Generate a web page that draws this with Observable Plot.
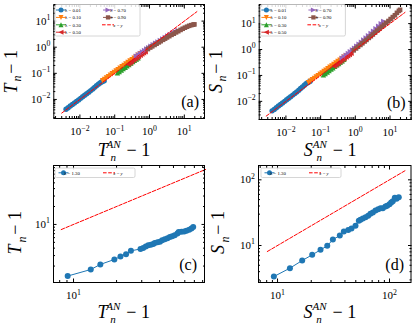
<!DOCTYPE html>
<html><head><meta charset="utf-8">
<script src="https://cdn.jsdelivr.net/npm/d3@7"></script>
<script src="https://cdn.jsdelivr.net/npm/@observablehq/plot@0.6"></script>
<style>
body{margin:0;background:#fff;}
#fig{position:relative;width:415px;height:326px;overflow:hidden;background:#fff;}
#fig svg{position:absolute;overflow:visible;}
</style></head><body><div id="fig"></div>
<script>
// ---------- data: panels (a) and (b) ----------
const lambdaLabels = ["0.01","0.10","0.30","0.50","0.70","0.90"];
const colors = ["#1f77b4","#ff7f0e","#2ca02c","#d62728","#9467bd","#8c564b"];

const x001 = [0.0040,0.0046,0.0053,0.0061,0.0070,0.0080,0.0092,0.0105,0.0120,0.0137,0.0157,0.0180,0.0205,0.0235,0.0265,0.030,0.034,0.038,0.042,0.046,0.050];
const T001 = [0.0042,0.0048,0.0056,0.0064,0.0073,0.0084,0.0096,0.0110,0.0126,0.0144,0.0165,0.0190,0.0218,0.0252,0.0290,0.0335,0.0385,0.0430,0.0465,0.0495,0.0525];
const S001 = [0.0043,0.0049,0.0057,0.0066,0.0076,0.0087,0.0100,0.0115,0.0132,0.0151,0.0174,0.0201,0.0232,0.0270,0.0312,0.0362,0.0420,0.0475,0.0520,0.0560,0.0600];

const x010 = [0.045,0.051,0.058,0.066,0.075,0.085,0.097,0.11,0.125,0.142,0.162,0.185,0.21,0.24,0.275,0.315,0.36,0.41,0.47,0.54];
const T010 = [0.052,0.058,0.066,0.075,0.085,0.096,0.109,0.123,0.139,0.157,0.178,0.202,0.228,0.26,0.295,0.335,0.38,0.43,0.49,0.56];
const S010 = [0.053,0.060,0.068,0.077,0.087,0.098,0.111,0.126,0.142,0.161,0.182,0.207,0.234,0.266,0.302,0.344,0.39,0.44,0.50,0.57];

const x030 = [0.12,0.135,0.155,0.175,0.20,0.225,0.255,0.29,0.33,0.37,0.42,0.47];
const T030 = [0.104,0.117,0.134,0.151,0.172,0.193,0.218,0.247,0.28,0.314,0.355,0.396];
const S030 = [0.105,0.119,0.136,0.154,0.176,0.198,0.224,0.255,0.29,0.326,0.37,0.415];

const x050 = [0.24,0.27,0.30,0.34,0.38,0.43,0.48,0.54,0.60,0.67,0.75];
const T050 = [0.222,0.249,0.277,0.313,0.35,0.395,0.44,0.492,0.545,0.605,0.67];
const S050 = [0.225,0.253,0.283,0.32,0.36,0.407,0.455,0.512,0.57,0.64,0.72];

const x070 = [0.42,0.48,0.55,0.63,0.72,0.83,0.95,1.1,1.28,1.5,1.75,2.05,2.4,2.85,3.35,3.95,4.7,5.6,6.6];
const T070 = [0.45,0.51,0.58,0.66,0.75,0.85,0.96,1.09,1.24,1.41,1.6,1.82,2.07,2.37,2.7,3.05,3.5,3.95,4.4];
const S070 = [0.46,0.53,0.61,0.71,0.83,0.97,1.13,1.34,1.6,1.93,2.32,2.8,3.4,4.2,5.1,6.3,7.9,9.9,12.2];

const x090 = [0.9,1.05,1.2,1.4,1.6,1.85,2.1,2.45,2.8,3.2,3.7,4.3,5.0,5.8,6.7,7.8,9.0,10.4,12.0,13.8,15.8,18.0,19.5];
const T090 = [0.85,0.97,1.08,1.22,1.36,1.53,1.7,1.92,2.13,2.37,2.65,2.98,3.3,3.7,4.1,4.6,5.1,5.6,6.1,6.6,7.0,7.3,7.5];
const S090 = [0.93,1.1,1.28,1.5,1.74,2.04,2.35,2.8,3.25,3.8,4.5,5.4,6.4,7.6,9.0,10.7,12.6,15.0,17.8,21.0,26,31,34];

// ---------- data: panels (c) and (d), lambda = 1.30 ----------
const lambdaC = "1.30";
const cX = [9.1,13.2,15.4,19.3,21.3,23.3,25.2,29.4,30.7,32.0,33.3,34.7,36.1,37.0,38.7,40.2,41.7,43.5,45.4,47.2,49.0,51.0,53.3,54.4,56.9,59.4,61.7,64.4,66.8,68.7];
const cY = [1.36,1.75,2.13,2.58,2.89,3.16,3.6,3.88,4.03,4.25,4.47,4.58,4.7,4.88,5.0,5.14,5.41,5.62,5.84,6.15,6.31,6.56,7.08,7.45,7.55,7.64,7.84,8.15,8.57,9.03];
const dX = [9.27,12.9,16.6,20.4,24.2,27.8,31.2,36.0,39.1,42.8,45.8,49.7,53.2,55.1,57.8,61.1,64.5,67.6,71,75,79.2,83.2,87.2,92,95.3,100,103.5,107,111.5,115.6,121];
const dY = [3.37,4.52,5.91,7.21,8.59,9.9,12.3,14.2,16.3,17.3,18.2,20.0,23.8,24.6,25.8,27.0,28.3,30.4,31.8,34.1,35.7,37,37,39.3,40.2,42.6,45.1,47.2,53.2,51.4,54.3];

// x = y reference line extents
const diagA = [0.003, 23], diagB = [0.0027, 27], diagC = [8.2, 84], diagD = [8.1, 139];

// tick values
const majA = [0.01, 0.1, 1, 10];
const majC_x = [10], majC_y = [10];
const majD = [10, 100];

// ---------- helpers ----------
const FONT = "'Liberation Serif','DejaVu Serif',serif";
const mk = pts => ({draw(ctx, size){const r=Math.sqrt(size/Math.PI);pts.forEach(([a,b],i)=>i?ctx.lineTo(a*r,b*r):ctx.moveTo(a*r,b*r));ctx.closePath();}});
const symCircle = d3.symbolCircle;
const symDown = mk([[0,1],[-1,-1],[1,-1]]);
const symUp = mk([[0,-1],[-1,1],[1,1]]);
const symLeft = mk([[-1,0],[1,-1],[1,1]]);
const symRight = mk([[1,0],[-1,-1],[-1,1]]);
const symSquare = mk([[-0.85,-0.85],[0.85,-0.85],[0.85,0.85],[-0.85,0.85]]);
const symbols = [symCircle, symDown, symUp, symLeft, symRight, symSquare];

const zip = (xs, ys) => xs.map((x,i)=>({x, y: ys[i]}));
const fmtPow = d => {const e=Math.round(Math.log10(d));return "10^"+(e<0?"\u2212"+(-e):e);};
function minorTicks(dom){const out=[];for(let e=-4;e<=3;e++)for(let m=2;m<=9;m++){const v=+(m*Math.pow(10,e)).toPrecision(3);if(v>=dom[0]&&v<=dom[1])out.push(v);}return out;}

function makePanel(cfg){
  const {left, top, width, height, mL, mR, mT, mB, xd, yd, xMajor, yMajor, series, diag, r} = cfg;
  const xMinor = minorTicks(xd), yMinor = minorTicks(yd);
  const marks = [];
  series.forEach(s => {
    marks.push(Plot.line(s.data, {x:"x", y:"y", stroke:s.color, strokeWidth:1}));
    marks.push(Plot.dot(s.data, {x:"x", y:"y", fill:s.color, stroke:"none", r, symbol:s.symbol}));
  });
  marks.push(Plot.line(zip(diag, diag), {x:"x", y:"y", stroke:"#ff0000", strokeWidth:1, strokeDasharray:"3.6,1.6"}));
  marks.push(Plot.frame({stroke:"black", strokeWidth:1}));
  marks.push(Plot.axisX(xMajor, {anchor:"bottom", tickSize:0, tickPadding:9, tickFormat:fmtPow, label:null}));
  marks.push(Plot.axisY(yMajor, {anchor:"left", tickSize:0, tickPadding:3.5, tickFormat:fmtPow, label:null}));
  marks.push(Plot.axisX(xMajor, {anchor:"bottom", tickSize:3.5, dy:-3.5, fill:"none", label:null}));
  marks.push(Plot.axisX(xMajor, {anchor:"top", tickSize:3.5, dy:3.5, fill:"none", label:null}));
  marks.push(Plot.axisX(xMinor, {anchor:"bottom", tickSize:2, dy:-2, fill:"none", label:null}));
  marks.push(Plot.axisX(xMinor, {anchor:"top", tickSize:2, dy:2, fill:"none", label:null}));
  marks.push(Plot.axisY(yMajor, {anchor:"left", tickSize:3.5, dx:3.5, fill:"none", label:null}));
  marks.push(Plot.axisY(yMajor, {anchor:"right", tickSize:3.5, dx:-3.5, fill:"none", label:null}));
  marks.push(Plot.axisY(yMinor, {anchor:"left", tickSize:2, dx:2, fill:"none", label:null}));
  marks.push(Plot.axisY(yMinor, {anchor:"right", tickSize:2, dx:-2, fill:"none", label:null}));
  const svg = Plot.plot({
    width, height, marginLeft:mL, marginRight:mR, marginTop:mT, marginBottom:mB,
    x:{type:"log", domain:xd, label:null}, y:{type:"log", domain:yd, label:null},
    style:{fontFamily:FONT, fontSize:"11px", color:"black", background:"transparent"},
    marks
  });
  svg.style.left = left + "px"; svg.style.top = top + "px";
  document.getElementById("fig").appendChild(svg);
  d3.select(svg).selectAll('g[aria-label="x-axis tick label"] text, g[aria-label="y-axis tick label"] text').each(function(){
    const s=this.textContent, k=s.indexOf("^"); if(k<0) return;
    const sel=d3.select(this); sel.text("");
    sel.append("tspan").text(s.slice(0,k));
    sel.append("tspan").attr("font-size","7.8px").attr("dy","-4.6").text(s.slice(k+1));
  });
  return svg;
}

// one text element per label; tspans are placed at measured positions
function mathLabel(svg, cx, by, rot, pieces){
  const g = d3.select(svg).append("g").attr("transform",`translate(${cx},${by}) rotate(${rot})`);
  let x=0, stackX=0;
  const placed=[];
  for(const p of pieces){
    const tmp = g.append("text").text(p.t).attr("font-family",FONT).attr("font-size",p.fs)
      .attr("font-style",p.it?"italic":"normal");
    const w = tmp.node().getComputedTextLength(); tmp.remove();
    let x0;
    if(p.stack){x0=stackX+(p.gap||0);} else {x0=x+(p.gap||0); stackX=x0;}
    placed.push({...p, x0});
    x = p.stack ? Math.max(x, x0+w) : x0+w;
  }
  const t = g.append("text").attr("font-family",FONT).attr("fill","black");
  for(const p of placed){
    t.append("tspan").attr("x",p.x0 - x/2).attr("y",p.dy||0).attr("font-size",p.fs)
      .attr("font-style",p.it?"italic":"normal").text(p.t);
  }
}
function xLabel(svg, cx, by, letter){
  const g0 = letter === "S" ? 2.5 : 0.8;
  mathLabel(svg, cx, by, 0, [{t:letter,it:true,fs:18},{t:"AN",it:true,fs:11,dy:-8,gap:g0},{t:"n",it:true,fs:11,dy:5,stack:true,gap:letter==="S"?-0.5:-0.3},{t:"\u2212",fs:18,gap:4},{t:"1",fs:18,gap:4}]);
}
function yLabel(svg, bx, cy, letter){
  mathLabel(svg, bx, cy, -90, [{t:letter,it:true,fs:18},{t:"n",it:true,fs:12,dy:4.5,gap:letter==="S"?1:0},{t:"\u2212",fs:18,gap:4},{t:"1",fs:18,gap:4}]);
}
function panelLetter(svg, x, y, s){
  d3.select(svg).append("text").attr("x",x).attr("y",y).attr("text-anchor","end")
    .attr("font-family",FONT).attr("font-size",16).attr("fill","black").text(s);
}
function legendEntry(g, x, y, e){
  if(e.dash){
    g.append("line").attr("x1",x-6).attr("x2",x+6).attr("y1",y).attr("y2",y)
      .attr("stroke","#ff0000").attr("stroke-width",1).attr("stroke-dasharray","3.6,1.6");
  } else {
    g.append("line").attr("x1",x-5).attr("x2",x+5).attr("y1",y).attr("y2",y).attr("stroke",e.color).attr("stroke-width",1);
    g.append("path").attr("transform",`translate(${x},${y})`).attr("fill",e.color)
      .attr("d", d3.symbol().type(e.symbol).size(Math.PI*2.5*2.5)());
  }
  const t = g.append("text").attr("x",e.tx).attr("y",y+1.7).attr("font-family",FONT).attr("font-size",4.8).attr("fill","black");
  if(e.dash){ t.append("tspan").attr("font-style","italic").text("x"); t.append("tspan").text(" = "); t.append("tspan").attr("font-style","italic").text("y"); }
  else { t.append("tspan").text("\u03bb = "+e.label); }
}
function legendBig(svg, x0, y0){
  const g = d3.select(svg).append("g");
  g.append("rect").attr("x",x0).attr("y",y0).attr("width",85).attr("height",31.5).attr("rx",1.5)
    .attr("fill","white").attr("fill-opacity",0.85).attr("stroke","#cccccc").attr("stroke-width",0.8);
  const rows=[y0+5.5,y0+12.9,y0+20.3,y0+27.7];
  for(let i=0;i<4;i++) legendEntry(g, x0+6, rows[i], {color:colors[i],symbol:symbols[i],label:lambdaLabels[i],tx:x0+18});
  for(let i=4;i<6;i++) legendEntry(g, x0+53, rows[i-4], {color:colors[i],symbol:symbols[i],label:lambdaLabels[i],tx:x0+63});
  legendEntry(g, x0+53, rows[2], {dash:true,tx:x0+63});
}
function legendSmall(svg, x0, y0){
  const g = d3.select(svg).append("g");
  g.append("rect").attr("x",x0).attr("y",y0).attr("width",80).attr("height",9.5).attr("rx",1.5)
    .attr("fill","white").attr("fill-opacity",0.85).attr("stroke","#cccccc").attr("stroke-width",0.8);
  legendEntry(g, x0+8.5, y0+4.8, {color:colors[0],symbol:symCircle,label:lambdaC,tx:x0+17});
  legendEntry(g, x0+54, y0+4.8, {dash:true,tx:x0+63});
}

// ---------- build ----------
const xsAB = [x001,x010,x030,x050,x070,x090];
const Ts = [T001,T010,T030,T050,T070,T090];
const Ss = [S001,S010,S030,S050,S070,S090];
const seriesA = xsAB.map((xs,i)=>({data:zip(xs,Ts[i]), color:colors[i], symbol:symbols[i]}));
const seriesB = xsAB.map((xs,i)=>({data:zip(xs,Ss[i]), color:colors[i], symbol:symbols[i]}));

const A = makePanel({left:0,top:0,width:207,height:160,mL:53.3,mR:3,mT:4,mB:42,
  xd:[Math.pow(10,-2.75),Math.pow(10,1.58)], yd:[Math.pow(10,-2.73),Math.pow(10,1.636)],
  xMajor:majA, yMajor:majA, series:seriesA, diag:diagA, r:2.7});
legendBig(A, 55, 4.5); xLabel(A, 128.7, 155.5, "T"); yLabel(A, 16.5, 67, "T"); panelLetter(A, 199, 107, "(a)");

const B = makePanel({left:207,top:0,width:208,height:160,mL:51.7,mR:4.3,mT:4,mB:41,
  xd:[Math.pow(10,-2.77),Math.pow(10,1.61)], yd:[Math.pow(10,-2.70),Math.pow(10,1.737)],
  xMajor:majA, yMajor:majA, series:seriesB, diag:diagB, r:2.7});
legendBig(B, 53.4, 4.5); xLabel(B, 127.7, 155.5, "S"); yLabel(B, 14.5, 67, "S"); panelLetter(B, 198.7, 108, "(b)");

const C = makePanel({left:0,top:160,width:207,height:166,mL:53,mR:3,mT:5,mB:44,
  xd:[Math.pow(10,0.86),Math.pow(10,1.916)], yd:[Math.pow(10,0.025),Math.pow(10,1.99)],
  xMajor:majC_x, yMajor:majC_y, series:[{data:zip(cX,cY),color:colors[0],symbol:symCircle}], diag:diagC, r:3});
legendSmall(C, 55, 8); xLabel(C, 128.5, 157.5, "T"); yLabel(C, 21, 68, "T"); panelLetter(C, 197, 110, "(c)");

const D = makePanel({left:207,top:160,width:208,height:166,mL:51,mR:4.5,mT:5,mB:44,
  xd:[Math.pow(10,0.83),Math.pow(10,2.192)], yd:[Math.pow(10,0.437),Math.pow(10,2.218)],
  xMajor:majD, yMajor:majD, series:[{data:zip(dX,dY),color:colors[0],symbol:symCircle}], diag:diagD, r:3});
legendSmall(D, 54, 8); xLabel(D, 127.3, 157.5, "S"); yLabel(D, 17, 68, "S"); panelLetter(D, 197, 110, "(d)");
</script>
</body></html>
